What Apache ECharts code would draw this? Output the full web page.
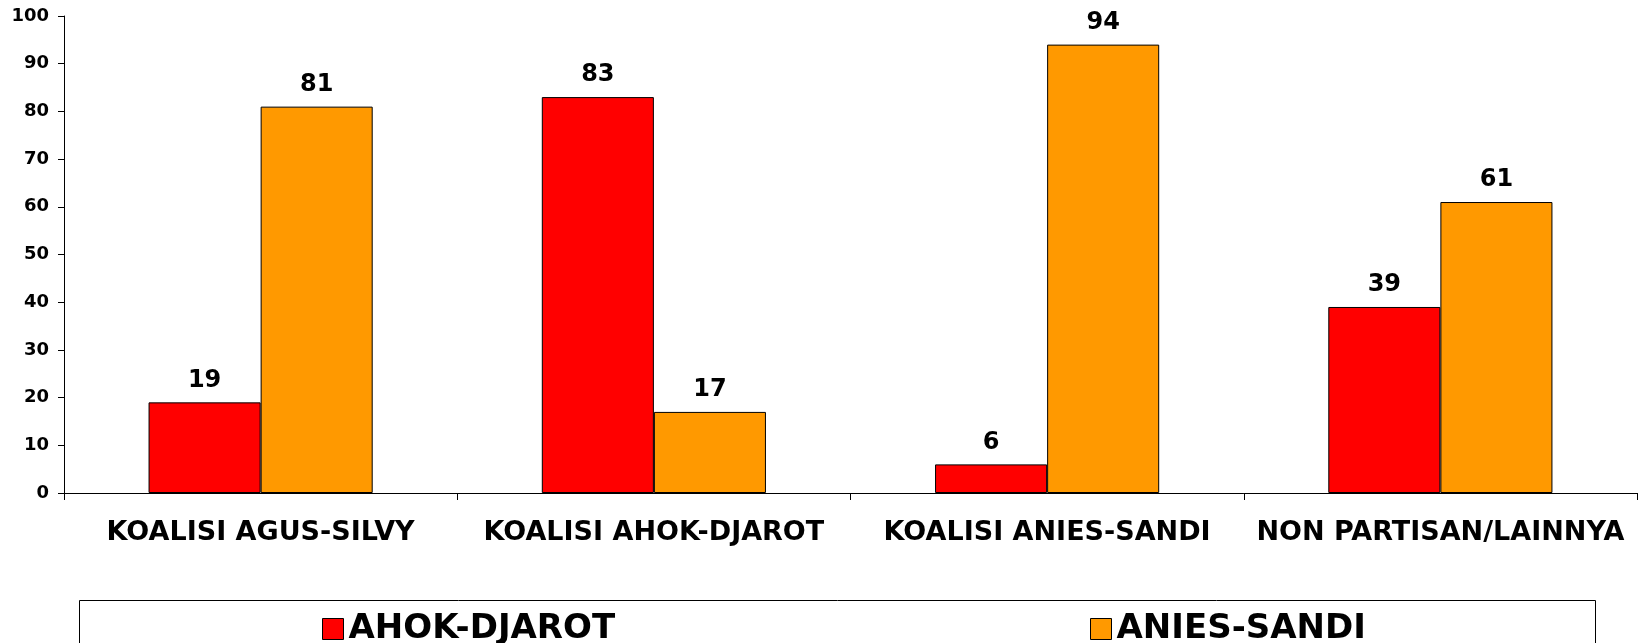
<!DOCTYPE html>
<html>
<head>
<meta charset="utf-8">
<script src="https://cdn.jsdelivr.net/npm/echarts@6/dist/echarts.min.js"></script>
<style>
  html, body { margin: 0; padding: 0; background: #fff; }
  #chart { width: 1642px; height: 643px; }
</style>
</head>
<body>
<div id="chart"></div>
<script>
// data
const categories = ['KOALISI AGUS-SILVY', 'KOALISI AHOK-DJAROT', 'KOALISI ANIES-SANDI', 'NON PARTISAN/LAINNYA']
const ahokDjarot = [19, 83, 6, 39]
const aniesSandi = [81, 17, 94, 61]
const yTicks = [0, 10, 20, 30, 40, 50, 60, 70, 80, 90, 100]

const font = 'DejaVu Sans'
const chart = echarts.init(document.getElementById('chart'))

const barLabel = {
  show: true,
  position: 'top',
  distance: 10,
  color: '#000',
  fontFamily: font,
  fontWeight: 'bold',
  fontSize: 24
}

const legendStyle = {
  orient: 'horizontal',
  top: 607,
  icon: 'rect',
  itemWidth: 21,
  itemHeight: 21,
  itemStyle: { borderColor: '#000', borderWidth: 1 },
  textStyle: {
    color: '#000',
    fontFamily: font,
    fontWeight: 'bold',
    fontSize: 34,
    lineHeight: 34
  },
  selectedMode: false
}

const option = {
  animation: false,
  backgroundColor: '#fff',
  grid: { left: 64, right: 5, top: 16, bottom: 150 },
  legend: [
    Object.assign({ left: 317, data: ['AHOK-DJAROT'] }, legendStyle),
    Object.assign({ left: 1085, data: ['ANIES-SANDI'] }, legendStyle)
  ],
  graphic: [{
    type: 'rect',
    shape: { x: 79.5, y: 600.5, width: 1516, height: 60 },
    style: { fill: 'none', stroke: '#000', lineWidth: 1 },
    silent: true
  }],
  xAxis: {
    type: 'category',
    data: categories,
    axisLine: { lineStyle: { color: '#000', width: 1 } },
    axisTick: { show: true, length: 7, lineStyle: { color: '#000' } },
    axisLabel: {
      interval: 0,
      margin: 26,
      color: '#000',
      fontFamily: font,
      fontWeight: 'bold',
      fontSize: 27
    }
  },
  yAxis: {
    type: 'value',
    min: yTicks[0],
    max: yTicks[yTicks.length - 1],
    interval: 10,
    splitLine: { show: false },
    axisLine: { show: true, lineStyle: { color: '#000', width: 1 } },
    axisTick: { show: true, length: 6, lineStyle: { color: '#000' } },
    axisLabel: {
      margin: 15,
      color: '#000',
      fontFamily: font,
      fontWeight: 'bold',
      fontSize: 18
    }
  },
  series: [
    {
      name: 'AHOK-DJAROT',
      type: 'bar',
      data: ahokDjarot,
      barGap: '0%',
      barCategoryGap: '43%',
      itemStyle: { color: '#FF0000', borderColor: '#000', borderWidth: 1 },
      label: barLabel
    },
    {
      name: 'ANIES-SANDI',
      type: 'bar',
      data: aniesSandi,
      itemStyle: { color: '#FF9900', borderColor: '#000', borderWidth: 1 },
      label: barLabel
    }
  ]
}

chart.setOption(option)
</script>
</body>
</html>
